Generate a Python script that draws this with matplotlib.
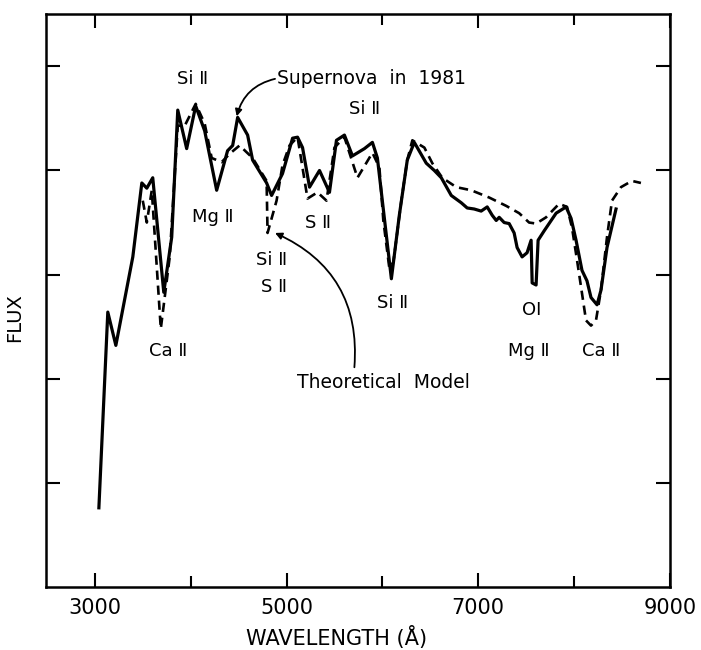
import matplotlib
matplotlib.use("Agg")
import matplotlib.pyplot as plt

plt.rcParams['font.family'] = ['DejaVu Sans']

# observed spectrum (solid)
obs_wl = [3042, 3135, 3219, 3396, 3490, 3542, 3604, 3719, 3802, 3865, 3958, 4052,
          4146, 4271, 4385, 4438, 4490, 4594, 4646, 4792, 4844, 4958, 5063, 5115,
          5167, 5240, 5344, 5448, 5521, 5604, 5688, 5813, 5896, 5948, 6094, 6177,
          6260, 6333, 6458, 6542, 6615, 6719, 6823, 6885, 6958, 7031, 7094, 7146,
          7188, 7219, 7271, 7323, 7375, 7406, 7458, 7510, 7552, 7563, 7604, 7625,
          7688, 7813, 7917, 7969, 8021, 8083, 8135, 8177, 8240, 8281, 8344, 8438]
obs_flux = [0.76, 2.64, 2.32, 3.17, 3.88, 3.83, 3.93, 2.83, 3.36, 4.58, 4.21, 4.62,
            4.38, 3.81, 4.19, 4.24, 4.51, 4.34, 4.10, 3.88, 3.76, 3.97, 4.31, 4.32,
            4.22, 3.84, 4.00, 3.79, 4.29, 4.34, 4.14, 4.21, 4.27, 4.12, 2.96, 3.57,
            4.10, 4.27, 4.07, 4.00, 3.93, 3.76, 3.69, 3.64, 3.63, 3.61, 3.65, 3.57,
            3.52, 3.55, 3.50, 3.49, 3.40, 3.26, 3.17, 3.21, 3.33, 2.92, 2.90, 3.33,
            3.42, 3.59, 3.65, 3.54, 3.33, 3.04, 2.94, 2.78, 2.71, 2.85, 3.26, 3.63]

# theoretical model (dashed)
mod_wl = [3500, 3542, 3594, 3688, 3781, 3865, 3938, 4052, 4146, 4219, 4323, 4406,
          4510, 4646, 4792, 4802, 4896, 4958, 5031, 5115, 5219, 5323, 5417, 5500,
          5604, 5740, 5896, 5969, 6010, 6073, 6115, 6198, 6260, 6313, 6438, 6521,
          6625, 6771, 6927, 7115, 7292, 7427, 7531, 7604, 7708, 7844, 7927, 7979,
          8031, 8083, 8125, 8177, 8229, 8281, 8344, 8396, 8490, 8604, 8698]
mod_flux = [3.71, 3.50, 3.81, 2.48, 3.17, 4.43, 4.43, 4.64, 4.45, 4.12, 4.08, 4.16,
            4.24, 4.12, 3.90, 3.40, 3.71, 4.05, 4.24, 4.32, 3.73, 3.79, 3.71, 4.22,
            4.32, 3.93, 4.17, 4.03, 3.52, 3.06, 3.12, 3.71, 4.10, 4.29, 4.22, 4.07,
            3.93, 3.84, 3.81, 3.74, 3.66, 3.59, 3.50, 3.49, 3.55, 3.68, 3.65, 3.45,
            3.14, 2.82, 2.56, 2.51, 2.56, 2.85, 3.36, 3.71, 3.84, 3.90, 3.88]

# line identifications: (text, wavelength, flux)
line_ids = [
    ("Si \u2161", 4021, 4.88),
    ("Si \u2161", 5813, 4.59),
    ("Mg \u2161", 4229, 3.55),
    ("S \u2161", 5333, 3.50),
    ("Si \u2161", 4844, 3.14),
    ("S \u2161", 4870, 2.88),
    ("Si \u2161", 6104, 2.73),
    ("OI", 7563, 2.66),
    ("Ca \u2161", 3760, 2.27),
    ("Mg \u2161", 7531, 2.27),
    ("Ca \u2161", 8281, 2.27),
]

fig = plt.figure(figsize=(7.01, 6.5), dpi=100)
ax = fig.add_axes([0.0656, 0.097, 0.890, 0.881])

ax.plot(obs_wl, obs_flux, color='black', lw=2.3, solid_joinstyle='round')
ax.plot(mod_wl, mod_flux, color='black', lw=1.9, dashes=(3.5, 2.2))

for txt, x, y in line_ids:
    ax.text(x, y, txt, ha='center', va='center', fontsize=13)

ax.text(4900, 4.88, "Supernova  in  1981", ha='left', va='center', fontsize=13.5)
ax.annotate('', xy=(4480, 4.52), xytext=(4880, 4.88),
            arrowprops=dict(arrowstyle='-|>', color='black', lw=1.3,
                            connectionstyle='arc3,rad=0.3', shrinkA=0, shrinkB=0))

ax.text(6010, 1.96, "Theoretical  Model", ha='center', va='center', fontsize=13.5)
ax.annotate('', xy=(4880, 3.40), xytext=(5708, 2.11),
            arrowprops=dict(arrowstyle='-|>', color='black', lw=1.3,
                            connectionstyle='arc3,rad=0.35', shrinkA=0, shrinkB=0))

ax.set_xlim(2490, 9000)
ax.set_ylim(0, 5.5)
ax.set_xticks([3000, 5000, 7000, 9000])
ax.set_xticks([4000, 6000, 8000], minor=True)
ax.set_xticklabels(["3000", "5000", "7000", "9000"], fontsize=15)
ax.set_yticks([1, 2, 3, 4, 5])
ax.set_yticklabels([])
ax.tick_params(which='both', direction='in', top=True, right=True, width=1.5)
ax.tick_params(which='major', length=10, pad=8)
ax.tick_params(which='minor', length=8)
for s in ax.spines.values():
    s.set_linewidth(1.8)

ax.set_xlabel("WAVELENGTH (\u00c5)", fontsize=15)
ax.xaxis.set_label_coords(0.465, -0.068)
ax.set_ylabel("FLUX", fontsize=14)
ax.yaxis.set_label_coords(-0.035, 0.47)

fig.savefig("out.png", dpi=100)
